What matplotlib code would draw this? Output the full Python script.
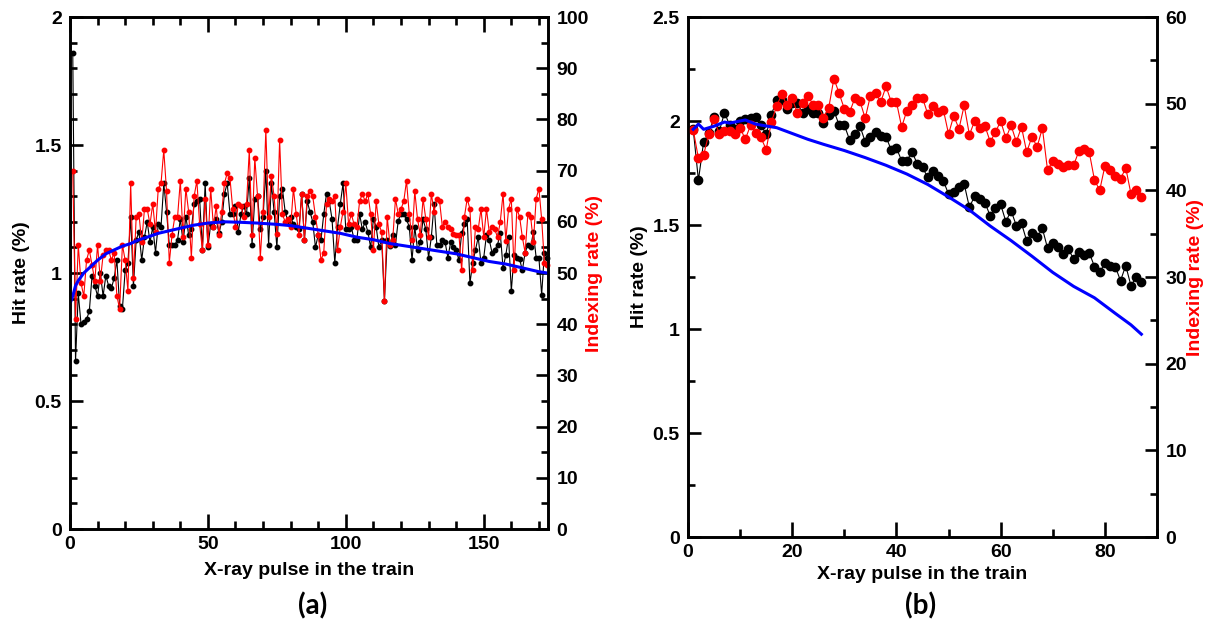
import matplotlib
matplotlib.use("Agg")
import matplotlib.pyplot as plt
from matplotlib.ticker import MultipleLocator, FuncFormatter

# ---------------- panel (a): 173 pulses per train ----------------
pulse_a = list(range(1, 174))

hit_a = [
    1.86, 0.655, 0.92, 0.80, 0.81, 0.82, 0.85, 0.99, 0.95, 0.91,
    1.00, 0.91, 0.99, 0.95, 0.94, 0.98, 1.05, 0.87, 0.86, 1.01,
    1.04, 1.22, 0.95, 1.13, 1.16, 1.05, 1.14, 1.20, 1.12, 1.18,
    1.08, 1.19, 1.18, 1.35, 1.24, 1.11, 1.11, 1.11, 1.13, 1.21,
    1.12, 1.22, 1.15, 1.17, 1.27, 1.28, 1.29, 1.09, 1.35, 1.10,
    1.19, 1.18, 1.21, 1.155, 1.20, 1.31, 1.35, 1.23, 1.23, 1.26,
    1.16, 1.23, 1.26, 1.23, 1.37, 1.11, 1.29, 1.30, 1.17, 1.22,
    1.40, 1.11, 1.35, 1.24, 1.10, 1.30, 1.33, 1.24, 1.20, 1.22,
    1.19, 1.18, 1.17, 1.31, 1.13, 1.28, 1.24, 1.20, 1.10, 1.15,
    1.13, 1.23, 1.31, 1.28, 1.21, 1.04, 1.18, 1.27, 1.35, 1.17,
    1.17, 1.18, 1.13, 1.13, 1.23, 1.17, 1.20, 1.16, 1.10, 1.21,
    1.18, 1.10, 1.13, 0.89, 1.13, 1.105, 1.15, 1.11, 1.205, 1.23,
    1.23, 1.21, 1.18, 1.05, 1.18, 1.09, 1.12, 1.21, 1.17, 1.06,
    1.14, 1.27, 1.11, 1.11, 1.13, 1.12, 1.06, 1.12, 1.10, 1.09,
    1.05, 1.155, 1.19, 1.21, 0.96, 1.04, 1.09, 1.14, 1.04, 1.06,
    1.15, 1.13, 1.08, 1.09, 1.11, 1.155, 1.02, 1.07, 1.14, 0.93,
    1.07, 1.06, 1.055, 1.01, 1.08, 1.11, 1.10, 1.16, 1.06, 1.06,
    0.915, 1.08, 1.06,
]

index_a = [
    70.0, 41.0, 55.5, 48.0, 45.5, 52.5, 54.5, 51.5, 48.5, 55.5,
    48.5, 53.5, 54.5, 54.5, 52.5, 54.0, 45.5, 43.0, 55.5, 52.5,
    46.5, 67.5, 49.0, 61.0, 61.5, 56.0, 62.5, 62.5, 59.5, 63.5,
    58.0, 66.5, 67.5, 74.0, 66.0, 52.0, 57.5, 61.0, 61.0, 68.0,
    57.0, 66.5, 62.0, 53.0, 65.0, 68.0, 59.5, 54.5, 64.5, 55.5,
    66.5, 59.0, 63.0, 57.5, 62.0, 67.5, 69.5, 68.5, 62.5, 59.0,
    63.5, 63.0, 61.0, 63.5, 74.0, 57.5, 72.5, 65.0, 53.0, 62.0,
    78.0, 61.0, 69.0, 65.0, 57.7, 76.0, 61.5, 60.0, 60.5, 59.0,
    66.5, 61.5, 57.5, 65.5, 56.5, 65.0, 66.0, 65.0, 61.0, 57.5,
    52.5, 54.0, 63.5, 64.5, 64.0, 65.0, 54.5, 59.0, 62.0, 67.5,
    59.5, 61.5, 59.5, 59.0, 64.0, 65.5, 64.0, 65.5, 61.5, 54.5,
    64.0, 59.5, 58.0, 44.5, 61.0, 55.5, 56.5, 64.5, 61.5, 62.5,
    64.0, 68.0, 61.5, 56.5, 66.0, 60.5, 57.5, 64.5, 60.5, 57.0,
    65.5, 62.0, 64.5, 64.0, 59.0, 60.0, 59.0, 58.5, 57.7, 57.5,
    57.5, 50.5, 61.0, 64.5, 62.5, 50.5, 59.0, 58.5, 62.5, 57.0,
    62.5, 58.0, 59.0, 58.5, 57.0, 60.0, 65.5, 56.3, 62.5, 64.5,
    50.5, 62.5, 61.0, 57.0, 54.0, 61.5, 61.0, 56.0, 64.5, 66.5,
    60.5, 52.0, 51.5,
]

# running hit-rate curve (blue)
trend_x_a = [0, 1, 2, 3, 5, 8, 10, 13, 16, 19, 22, 25, 28, 32, 36, 40, 45,
             50, 56, 62, 68, 75, 80, 86, 92, 98, 104, 110, 116, 122, 128,
             134, 140, 146, 152, 158, 164, 170, 173]
trend_y_a = [0.88, 0.91, 0.95, 0.97, 1.00, 1.03, 1.05, 1.075, 1.09, 1.105,
             1.115, 1.13, 1.14, 1.155, 1.165, 1.175, 1.187, 1.195, 1.20,
             1.198, 1.195, 1.19, 1.185, 1.175, 1.165, 1.155, 1.14, 1.13,
             1.115, 1.105, 1.095, 1.085, 1.075, 1.06, 1.045, 1.035, 1.02,
             1.005, 1.00]

# ---------------- panel (b): 87 pulses per train ----------------
pulse_b = list(range(1, 88))

hit_b = [
    1.96, 1.716, 1.90, 1.94, 2.02, 1.95, 2.04, 1.98, 1.96, 2.00,
    2.01, 2.016, 2.02, 1.98, 1.936, 2.03, 2.10, 2.10, 2.06, 2.085,
    2.085, 2.04, 2.06, 2.04, 2.04, 1.99, 2.03, 2.05, 1.98, 1.98,
    1.91, 1.936, 1.976, 1.90, 1.925, 1.947, 1.93, 1.925, 1.86, 1.87,
    1.809, 1.809, 1.852, 1.793, 1.777, 1.729, 1.761, 1.737, 1.712, 1.649,
    1.660, 1.681, 1.697, 1.585, 1.639, 1.623, 1.607, 1.543, 1.583, 1.599,
    1.516, 1.569, 1.497, 1.508, 1.423, 1.460, 1.441, 1.484, 1.388, 1.415,
    1.396, 1.361, 1.383, 1.337, 1.369, 1.356, 1.367, 1.300, 1.273, 1.316,
    1.305, 1.300, 1.232, 1.305, 1.208, 1.248, 1.224,
]

index_b = [
    47.0, 43.7, 44.1, 46.5, 48.2, 46.5, 46.8, 46.8, 46.5, 47.2,
    45.9, 47.5, 46.6, 46.1, 44.7, 47.9, 49.7, 51.1, 49.8, 50.6,
    48.9, 50.1, 50.9, 49.9, 49.9, 48.4, 49.5, 52.9, 51.2, 49.4,
    49.0, 50.6, 50.3, 48.3, 50.9, 51.2, 50.2, 52.0, 50.2, 50.2,
    47.3, 49.2, 49.8, 50.7, 50.7, 48.8, 49.7, 49.0, 49.3, 46.5,
    48.6, 47.1, 49.8, 46.4, 48.0, 47.2, 47.4, 45.6, 46.7, 48.0,
    46.0, 47.5, 45.6, 47.3, 44.4, 46.2, 45.0, 47.2, 42.3, 43.4,
    43.0, 42.7, 42.9, 42.9, 44.5, 44.8, 44.4, 41.2, 40.0, 42.8,
    42.4, 41.6, 41.3, 42.6, 39.6, 40.0, 39.2,
]

trend_x_b = [1, 2, 3, 5, 7, 8, 10, 11, 13, 15, 17, 20, 23, 26, 30, 34, 38,
             42, 46, 50, 54, 58, 62, 66, 70, 74, 78, 82, 85, 87]
trend_y_b = [1.96, 1.985, 1.96, 1.975, 1.995, 1.99, 2.00, 2.005, 1.985,
             1.976, 1.968, 1.94, 1.912, 1.888, 1.858, 1.824, 1.787, 1.745,
             1.695, 1.635, 1.572, 1.495, 1.425, 1.350, 1.272, 1.205, 1.150,
             1.075, 1.020, 0.975]

xlabel = "X-ray pulse in the train"
ylabel_left = "Hit rate (%)"
ylabel_right = "Indexing rate (%)"

FONT = "Liberation Sans"
TICK_FS = 14
LABEL_FS = 14
SPINE_W = 1.9

plt.rcParams["font.family"] = [FONT, "DejaVu Sans"]
plt.rcParams["font.weight"] = "bold"

fig = plt.figure(figsize=(12.09, 6.26), dpi=100)

fmt = FuncFormatter(lambda v, p: "%g" % v)


def style_axes(ax, ax2, xmax, xmajor, xminor, ymax, ymajor, yminor,
               rmax, rmajor, rminor, xmaj_len, xmin_len, top_ticks):
    ax.set_xlim(0, xmax)
    ax.set_ylim(0, ymax)
    ax2.set_ylim(0, rmax)
    ax.xaxis.set_major_locator(MultipleLocator(xmajor))
    ax.xaxis.set_minor_locator(MultipleLocator(xminor))
    ax.yaxis.set_major_locator(MultipleLocator(ymajor))
    ax.yaxis.set_minor_locator(MultipleLocator(yminor))
    ax2.yaxis.set_major_locator(MultipleLocator(rmajor))
    ax2.yaxis.set_minor_locator(MultipleLocator(rminor))
    ax.yaxis.set_major_formatter(fmt)
    ax.xaxis.set_major_formatter(fmt)
    ax2.yaxis.set_major_formatter(fmt)
    for a in (ax, ax2):
        for s in a.spines.values():
            s.set_linewidth(SPINE_W)
    ax.tick_params(axis="x", which="major", direction="in", length=xmaj_len,
                   width=SPINE_W, labelsize=TICK_FS, pad=5, top=top_ticks)
    ax.tick_params(axis="x", which="minor", direction="in", length=xmin_len,
                   width=SPINE_W, top=top_ticks)
    ax.tick_params(axis="y", which="major", direction="in", length=9,
                   width=SPINE_W, labelsize=TICK_FS, pad=6)
    ax.tick_params(axis="y", which="minor", direction="in", length=5,
                   width=SPINE_W)
    ax2.tick_params(axis="y", which="major", direction="in", length=9,
                    width=SPINE_W, labelsize=TICK_FS, pad=6)
    ax2.tick_params(axis="y", which="minor", direction="in", length=5,
                    width=SPINE_W)
    for lab in ax.get_xticklabels() + ax.get_yticklabels() + ax2.get_yticklabels():
        lab.set_fontweight("bold")


# ---------- panel (a) ----------
axa = fig.add_axes([70 / 1209, 97 / 626, 478 / 1209, 512 / 626])
axa2 = axa.twinx()
axa.plot(pulse_a, hit_a, color="black", lw=0.8, marker="o", ms=3.2,
         mec="black", mfc="black", clip_on=False)
axa2.plot(pulse_a, index_a, color="red", lw=0.8, marker="o", ms=3.2,
          mec="red", mfc="red", clip_on=False)
axa2.plot(trend_x_a, trend_y_a, color="blue", lw=2.2, transform=axa.transData)
style_axes(axa, axa2, 173.3, 50, 10, 2, 0.5, 0.1, 100, 10, 5, 11, 6, True)
axa.set_xlabel(xlabel, fontsize=LABEL_FS, fontweight="bold")
axa.set_ylabel(ylabel_left, fontsize=LABEL_FS, fontweight="bold")
axa2.set_ylabel(ylabel_right, fontsize=LABEL_FS, fontweight="bold", color="red")
axa.xaxis.set_label_coords(0.5, -0.064)
axa.yaxis.set_label_coords(-0.084, 0.5)
axa2.yaxis.set_label_coords(1.080, 0.5)

# ---------- panel (b) ----------
axb = fig.add_axes([688 / 1209, 89 / 626, 469 / 1209, 520 / 626])
axb2 = axb.twinx()
axb.plot(pulse_b, hit_b, color="black", lw=0.8, marker="o", ms=6,
         mec="black", mfc="black")
axb2.plot(pulse_b, index_b, color="red", lw=0.8, marker="o", ms=6,
          mec="red", mfc="red")
axb2.plot(trend_x_b, trend_y_b, color="blue", lw=2.2, transform=axb.transData)
style_axes(axb, axb2, 90, 20, 10, 2.5, 0.5, 0.25, 60, 10, 5, 11, 6, False)
axb.set_xlabel(xlabel, fontsize=LABEL_FS, fontweight="bold")
axb.set_ylabel(ylabel_left, fontsize=LABEL_FS, fontweight="bold")
axb2.set_ylabel(ylabel_right, fontsize=LABEL_FS, fontweight="bold", color="red")
axb.xaxis.set_label_coords(0.5, -0.056)
axb.yaxis.set_label_coords(-0.085, 0.5)
axb2.yaxis.set_label_coords(1.064, 0.5)

# panel tags
fig.text(313 / 1209, 1 - 606 / 626, "(a)", ha="center", va="center",
         fontsize=20, fontweight="bold", family=["Lato", "DejaVu Sans"])
fig.text(921 / 1209, 1 - 606 / 626, "(b)", ha="center", va="center",
         fontsize=20, fontweight="bold", family=["Lato", "DejaVu Sans"])

fig.savefig("out.png", dpi=100)
